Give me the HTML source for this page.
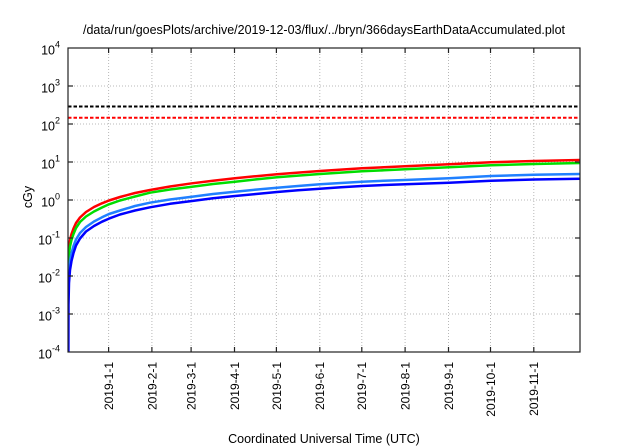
<!DOCTYPE html>
<html>
<head>
<meta charset="utf-8">
<style>
html,body{margin:0;padding:0;background:#fff;}
svg{display:block;}
text{font-family:"Liberation Sans",Arial,sans-serif;fill:#000;}
</style>
</head>
<body>
<svg width="640" height="448" viewBox="0 0 640 448" xmlns="http://www.w3.org/2000/svg">
<rect x="0" y="0" width="640" height="448" fill="#fff"/>
<defs>
<clipPath id="pa"><rect x="68" y="48" width="512" height="304"/></clipPath>
</defs>

<!-- grid -->
<g stroke="#b8b8b8" stroke-width="1" stroke-dasharray="1,2" fill="none">
<line x1="68" y1="86" x2="580" y2="86"/>
<line x1="68" y1="124" x2="580" y2="124"/>
<line x1="68" y1="162" x2="580" y2="162"/>
<line x1="68" y1="200" x2="580" y2="200"/>
<line x1="68" y1="238" x2="580" y2="238"/>
<line x1="68" y1="276" x2="580" y2="276"/>
<line x1="68" y1="314" x2="580" y2="314"/>
<line x1="108.6" y1="48" x2="108.6" y2="352"/>
<line x1="151.9" y1="48" x2="151.9" y2="352"/>
<line x1="191.1" y1="48" x2="191.1" y2="352"/>
<line x1="234.5" y1="48" x2="234.5" y2="352"/>
<line x1="276.4" y1="48" x2="276.4" y2="352"/>
<line x1="319.8" y1="48" x2="319.8" y2="352"/>
<line x1="361.8" y1="48" x2="361.8" y2="352"/>
<line x1="405.1" y1="48" x2="405.1" y2="352"/>
<line x1="448.5" y1="48" x2="448.5" y2="352"/>
<line x1="490.5" y1="48" x2="490.5" y2="352"/>
<line x1="533.8" y1="48" x2="533.8" y2="352"/>
</g>

<g clip-path="url(#pa)" fill="none" stroke-linejoin="round" stroke-linecap="round">
<!-- threshold dashed lines -->
<line x1="68" y1="106.5" x2="580" y2="106.5" stroke="#000" stroke-width="2" stroke-dasharray="3.5,2" stroke-linecap="butt"/>
<line x1="68" y1="117.7" x2="580" y2="117.7" stroke="#ff0000" stroke-width="2" stroke-dasharray="3.5,2" stroke-linecap="butt"/>

<!-- red -->
<polyline stroke="#ff0000" stroke-width="2.5" points="68.5,254 69,247 70,240 71.5,234 73.5,228.5 76,223 80,217.5 86,212 94,207 102,203.3 109,200.5 120,197 135,193 150,190 170,186.5 192,183.3 213,180.7 235,178.3 256,176.2 277,174.3 298,172.6 320,171 341,169.6 362,168.3 384,167.3 405,166.3 449,164.2 491,162.3 534,161 580,160"/>
<!-- green -->
<polyline stroke="#00dd00" stroke-width="2.5" points="68.5,262 69,254 70,246.5 71.5,240 73.5,234 76,228 80,222 86,216.5 94,211.5 102,207.5 109,204.3 120,200.5 135,196.5 150,192.7 170,189.5 192,186.7 213,184 235,181.7 256,179.4 277,177.3 298,175.6 320,174 341,172.6 362,171.3 384,170.3 405,169.3 449,167.3 491,165.3 534,164 580,163"/>
<!-- light blue -->
<polyline stroke="#2080ff" stroke-width="2.5" points="68.5,290 69,272 70,261 71.5,253 73.5,246 76,239.5 80,233 86,227 94,221.5 102,217.3 109,214 120,210.5 135,206 150,202.7 170,199.5 192,196.7 213,194 235,191.7 256,189.6 277,187.7 298,186 320,184.3 341,183 362,181.7 384,180.8 405,180 449,178.3 491,176 534,174.8 580,174"/>
<!-- blue -->
<polyline stroke="#0000ff" stroke-width="2.5" points="68.4,352 68.5,305 69,283 70,270 71.5,261 73.5,253 76,245.5 80,238.5 86,231.5 94,226 102,221.7 109,218.6 120,214.5 135,210.5 150,207.3 170,203.8 192,201 213,198.3 235,196 256,194 277,192 298,190.3 320,188.7 341,187.3 362,186 384,185 405,184.2 449,182.7 491,180.7 534,179.5 580,178.7"/>
</g>

<!-- border -->
<rect x="68" y="48" width="512" height="304" fill="none" stroke="#222" stroke-width="1.2"/>

<!-- ticks -->
<g stroke="#222" stroke-width="1.2">
<line x1="68" y1="86" x2="73" y2="86"/><line x1="580" y1="86" x2="575" y2="86"/>
<line x1="68" y1="124" x2="73" y2="124"/><line x1="580" y1="124" x2="575" y2="124"/>
<line x1="68" y1="162" x2="73" y2="162"/><line x1="580" y1="162" x2="575" y2="162"/>
<line x1="68" y1="200" x2="73" y2="200"/><line x1="580" y1="200" x2="575" y2="200"/>
<line x1="68" y1="238" x2="73" y2="238"/><line x1="580" y1="238" x2="575" y2="238"/>
<line x1="68" y1="276" x2="73" y2="276"/><line x1="580" y1="276" x2="575" y2="276"/>
<line x1="68" y1="314" x2="73" y2="314"/><line x1="580" y1="314" x2="575" y2="314"/>

<line x1="108.6" y1="352" x2="108.6" y2="347"/><line x1="108.6" y1="48" x2="108.6" y2="53"/>
<line x1="151.9" y1="352" x2="151.9" y2="347"/><line x1="151.9" y1="48" x2="151.9" y2="53"/>
<line x1="191.1" y1="352" x2="191.1" y2="347"/><line x1="191.1" y1="48" x2="191.1" y2="53"/>
<line x1="234.5" y1="352" x2="234.5" y2="347"/><line x1="234.5" y1="48" x2="234.5" y2="53"/>
<line x1="276.4" y1="352" x2="276.4" y2="347"/><line x1="276.4" y1="48" x2="276.4" y2="53"/>
<line x1="319.8" y1="352" x2="319.8" y2="347"/><line x1="319.8" y1="48" x2="319.8" y2="53"/>
<line x1="361.8" y1="352" x2="361.8" y2="347"/><line x1="361.8" y1="48" x2="361.8" y2="53"/>
<line x1="405.1" y1="352" x2="405.1" y2="347"/><line x1="405.1" y1="48" x2="405.1" y2="53"/>
<line x1="448.5" y1="352" x2="448.5" y2="347"/><line x1="448.5" y1="48" x2="448.5" y2="53"/>
<line x1="490.5" y1="352" x2="490.5" y2="347"/><line x1="490.5" y1="48" x2="490.5" y2="53"/>
<line x1="533.8" y1="352" x2="533.8" y2="347"/><line x1="533.8" y1="48" x2="533.8" y2="53"/>
</g>

<!-- title -->
<text x="324" y="34" font-size="12.5" text-anchor="middle" textLength="482" lengthAdjust="spacingAndGlyphs">/data/run/goesPlots/archive/2019-12-03/flux/../bryn/366daysEarthDataAccumulated.plot</text>

<!-- y labels -->
<g font-size="12.5" text-anchor="end">
<text x="60" y="54.5">10<tspan dy="-7" font-size="9">4</tspan></text>
<text x="60" y="92.5">10<tspan dy="-7" font-size="9">3</tspan></text>
<text x="60" y="130.5">10<tspan dy="-7" font-size="9">2</tspan></text>
<text x="60" y="168.5">10<tspan dy="-7" font-size="9">1</tspan></text>
<text x="60" y="206.5">10<tspan dy="-7" font-size="9">0</tspan></text>
<text x="60" y="244.5">10<tspan dy="-7" font-size="9">-1</tspan></text>
<text x="60" y="282.5">10<tspan dy="-7" font-size="9">-2</tspan></text>
<text x="60" y="320.5">10<tspan dy="-7" font-size="9">-3</tspan></text>
<text x="60" y="358.5">10<tspan dy="-7" font-size="9">-4</tspan></text>
</g>

<text transform="translate(32,197) rotate(-90)" font-size="12.5" text-anchor="middle">cGy</text>

<!-- x tick labels -->
<g font-size="12" text-anchor="end">
<text transform="translate(113,362) rotate(-90)">2019-1-1</text>
<text transform="translate(156.3,362) rotate(-90)">2019-2-1</text>
<text transform="translate(195.5,362) rotate(-90)">2019-3-1</text>
<text transform="translate(238.9,362) rotate(-90)">2019-4-1</text>
<text transform="translate(280.8,362) rotate(-90)">2019-5-1</text>
<text transform="translate(324.2,362) rotate(-90)">2019-6-1</text>
<text transform="translate(366.2,362) rotate(-90)">2019-7-1</text>
<text transform="translate(409.5,362) rotate(-90)">2019-8-1</text>
<text transform="translate(452.9,362) rotate(-90)">2019-9-1</text>
<text transform="translate(494.9,362) rotate(-90)">2019-10-1</text>
<text transform="translate(538.2,362) rotate(-90)">2019-11-1</text>
</g>

<text x="324" y="443" font-size="12.5" text-anchor="middle">Coordinated Universal Time (UTC)</text>
</svg>
</body>
</html>
